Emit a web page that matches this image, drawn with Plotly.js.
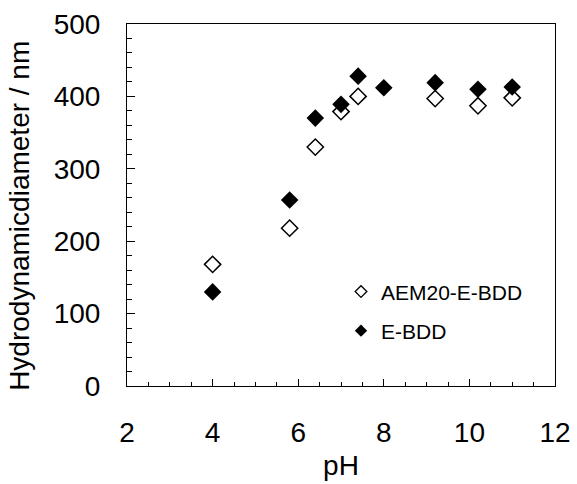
<!DOCTYPE html>
<html>
<head>
<meta charset="utf-8">
<script src="https://cdn.plot.ly/plotly-3.0.1.min.js"></script>
<style>html,body{margin:0;padding:0;background:#fff;}#chart{width:577px;height:484px;}</style>
</head>
<body>
<div id="chart"></div>
<script>
// Data
const aemPH   = [4.0, 5.8, 6.4, 7.0, 7.4, 9.2, 10.2, 11.0];
const aemSize = [168, 218, 330, 379, 400, 397, 387, 398];
const ebddPH   = [4.0, 5.8, 6.4, 7.0, 7.4, 8.0, 9.2, 10.2, 11.0];
const ebddSize = [130, 257, 370, 389, 428, 412, 419, 410, 413];
const seriesNames = ["AEM20-E-BDD", "E-BDD"];
const xTicks = [2, 4, 6, 8, 10, 12];
const yTicks = [0, 100, 200, 300, 400, 500];
const xTitle = "pH";
const yTitle = "Hydrodynamicdiameter / nm";

const font = {family: "Liberation Sans, Arial, sans-serif", color: "#000"};

const traces = [
  {x: aemPH, y: aemSize, type: "scatter", mode: "markers", showlegend: false,
   marker: {symbol: "diamond-open", size: 12.5, color: "#000", line: {width: 1.5, color: "#000"}}},
  {x: ebddPH, y: ebddSize, type: "scatter", mode: "markers", showlegend: false,
   marker: {symbol: "diamond", size: 13.5, color: "#000"}},
  // legend entries with smaller symbols
  {x: [null], y: [null], type: "scatter", mode: "markers", name: seriesNames[0], legend: "legend",
   marker: {symbol: "diamond-open", size: 9, color: "#000", line: {width: 1.3, color: "#000"}}},
  {x: [null], y: [null], type: "scatter", mode: "markers", name: seriesNames[1], legend: "legend2",
   marker: {symbol: "diamond", size: 9.5, color: "#000"}}
];

const axisCommon = {
  showgrid: false, zeroline: false, showline: true, linecolor: "#000", linewidth: 1,
  mirror: true, ticks: "inside", tickcolor: "#000", tickwidth: 1,
  tickfont: Object.assign({size: 28}, font)
};

const layout = {
  width: 577, height: 484,
  margin: {l: 127, r: 22, t: 24, b: 98},
  paper_bgcolor: "#fff", plot_bgcolor: "#fff",
  font: font,
  xaxis: Object.assign({}, axisCommon, {
    range: [2, 12], tickvals: xTicks, ticklen: 7, ticklabelstandoff: 21,
    minor: {dtick: 0.5, ticks: "inside", ticklen: 4, tickcolor: "#000", tickwidth: 1, showgrid: false},
    title: {text: xTitle, font: Object.assign({size: 28}, font), standoff: 8}
  }),
  yaxis: Object.assign({}, axisCommon, {
    range: [0, 500], tickvals: yTicks, ticklen: 8, ticklabelstandoff: 20,
    minor: {dtick: 20, ticks: "inside", ticklen: 5, tickcolor: "#000", tickwidth: 1, showgrid: false},
    title: {text: ""}
  }),
  annotations: [
    {text: yTitle, xref: "paper", yref: "paper", x: -0.25, y: 0.47, xanchor: "center", yanchor: "middle",
     textangle: -90, showarrow: false, font: Object.assign({size: 28}, font)}
  ],
  legend: {x: 0.50, y: 0.26, xanchor: "left", yanchor: "middle", bgcolor: "rgba(0,0,0,0)",
           font: Object.assign({size: 21}, font), itemwidth: 30},
  legend2: {x: 0.50, y: 0.152, xanchor: "left", yanchor: "middle", bgcolor: "rgba(0,0,0,0)",
            font: Object.assign({size: 21}, font), itemwidth: 30}
};

Plotly.newPlot("chart", traces, layout, {displayModeBar: false, staticPlot: true});
</script>
</body>
</html>
